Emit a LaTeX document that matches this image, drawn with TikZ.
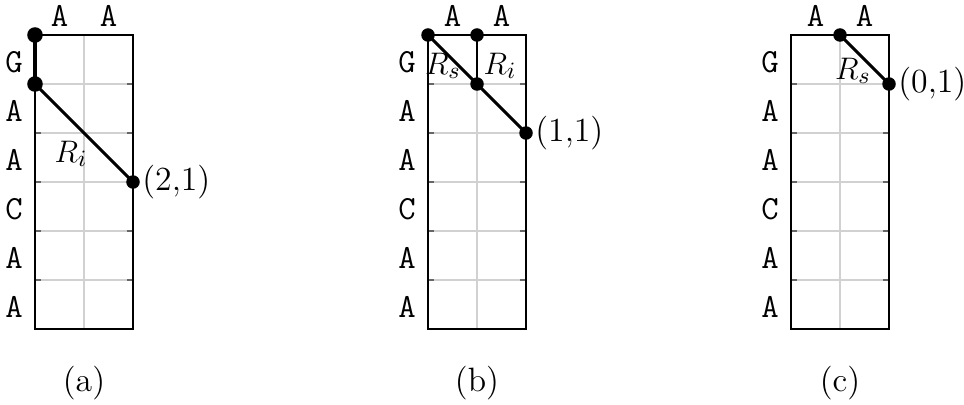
\documentclass[tikz,border=0pt]{standalone}
\begin{document}
\begin{tikzpicture}[x=0.385pt,y=-0.385pt,
  font=\fontsize{13}{15}\selectfont,
  dot/.style={circle,fill=black,inner sep=0pt,minimum size=5.2pt},
  bigdot/.style={circle,fill=black,inner sep=0pt,minimum size=6pt},
  lbl/.style={font=\fontsize{13}{15}\selectfont\ttfamily,inner sep=0pt},
  gridl/.style={draw=black!18,line width=0.4pt},
  tickl/.style={draw=black!60,line width=0.5pt},
  frameline/.style={draw=black,line width=0.6pt},
  seg/.style={draw=black,line width=1.1pt},
  thickseg/.style={draw=black,line width=1.6pt},
  mlbl/.style={inner sep=0pt},
  captn/.style={inner sep=0pt}]
\useasboundingbox (0,0) rectangle (964,405);
\newcommand\mygrid[2]{%
  \begin{scope}[shift={(#1,0)}]
    \foreach \yy in {84,133,182,231,280} {
      \draw[gridl] (0,\yy) -- (98,\yy);
      \draw[tickl] (0,\yy) -- (6,\yy);
      \draw[tickl] (92,\yy) -- (98,\yy);
    }
    \draw[gridl] (49,35) -- (49,329);
    \draw[frameline] (0,35) rectangle (98,329);
    \foreach \t [count=\i] in {G,A,A,C,A,A}
      \node[lbl] at (-21,{35+49*\i-22}) {\t};
    \node[lbl] at (24.5,16) {A};
    \node[lbl] at (73.5,16) {A};
    \node[captn] at (49,383) {(#2)};
  \end{scope}}
\mygrid{35}{a}
\mygrid{428}{b}
\mygrid{791}{c}
% (a)
\node[bigdot] (a1) at (35,35) {};
\node[bigdot] (a2) at (35,84) {};
\node[dot] (a3) at (133,182) {};
\draw[thickseg] (a1.center) -- (a2.center);
\draw[seg] (a2.center) -- (a3.center);
\node[mlbl] (ari) at (71,154) {$R_i$};
\node[mlbl,anchor=west] (a3l) at ([xshift=0.6pt]a3.east) {(2,1)};
% (b)
\node[dot] (b1) at (428,35) {};
\node[dot] (b2) at (477,35) {};
\node[dot] (b3) at (477,84) {};
\node[dot] (b4) at (526,133) {};
\draw[seg] (b1.center) -- (b3.center);
\draw[seg] (b2.center) -- (b3.center);
\draw[seg] (b3.center) -- (b4.center);
\node[mlbl] (brs) at (443,66) {$R_s$};
\node[mlbl] (bri) at (500,66) {$R_i$};
\node[mlbl,anchor=west] (b4l) at ([xshift=0.6pt]b4.east) {(1,1)};
% (c)
\node[dot] (c1) at (840,35) {};
\node[dot] (c2) at (889,84) {};
\draw[seg] (c1.center) -- (c2.center);
\node[mlbl] (crs) at (853,71) {$R_s$};
\node[mlbl,anchor=west] (c2l) at ([xshift=0.6pt]c2.east) {(0,1)};
\end{tikzpicture}
\end{document}
